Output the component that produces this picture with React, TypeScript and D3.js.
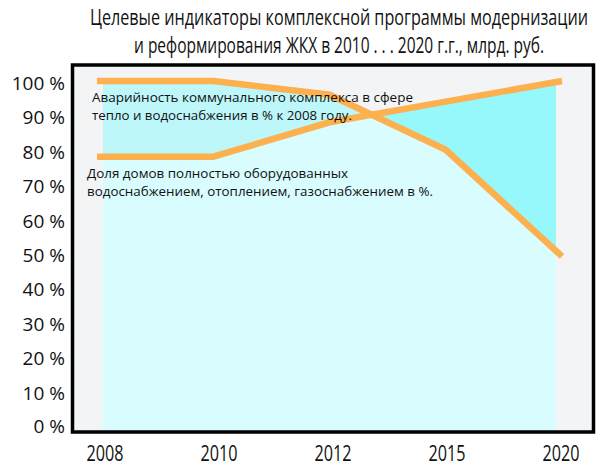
import React from "react";
import * as d3 from "d3";

// chart values
const years = ["2008", "2010", "2012", "2015", "2020"];
const emergencyRate = [100, 100, 96, 80, 49]; // Аварийность коммунального комплекса, % к 2008
const housingShare = [78, 78, 88, 94, 100]; // Доля домов полностью оборудованных, %
const yTickValues = [0, 10, 20, 30, 40, 50, 60, 70, 80, 90, 100];

const titleLines = [
  "Целевые индикаторы комплексной программы модернизации",
  "и реформирования ЖКХ в 2010 . . . 2020 г.г., млрд. руб.",
];
const noteEmergency = [
  "Аварийность коммунального комплекса в сфере",
  "тепло и водоснабжения в % к 2008 году.",
];
const noteHousing = [
  "Доля домов полностью оборудованных",
  "водоснабжением, отоплением, газоснабжением в %.",
];

const width = 603;
const height = 472;

export default function App() {
  // frame of the plot
  const frame = { left: 72.5, top: 65, right: 593.5, bottom: 432 };

  const x = d3.scalePoint<string>().domain(years).range([97, 562]);
  const xLabel = d3.scalePoint<string>().domain(years).range([105, 561]);
  const y = d3.scaleLinear().domain([0, 100]).range([425, 81]);

  const rows = (vals: number[]) => years.map((yr, i) => ({ yr, v: vals[i] }));
  const rowsA = rows(emergencyRate);
  const rowsD = rows(housingShare);

  const areaUnder = d3
    .area<{ yr: string; v: number }>()
    .x((d) => x(d.yr)!)
    .y0(frame.bottom)
    .y1((d) => y(d.v));

  const line = d3
    .line<{ yr: string; v: number }>()
    .x((d) => x(d.yr)!)
    .y((d) => y(d.v));

  const fillLeft = x(years[0])! + 6;
  const fillRight = x(years[years.length - 1])! - 6;

  const orange = "#fdb04e";
  const sans = "'Open Sans', 'Noto Sans', sans-serif";
  const squeeze = 0.8; // condensed look for year labels
  const tallTitle = 21 / 17; // title is drawn small and stretched up

  return (
    <svg
      width={width}
      height={height}
      style={{ position: "absolute", left: 0, top: 0, background: "#fff" }}
    >
      <defs>
        <clipPath id="fillX">
          <rect
            x={fillLeft}
            y={frame.top}
            width={fillRight - fillLeft}
            height={frame.bottom - frame.top}
          />
        </clipPath>
        <clipPath id="underD">
          <path d={areaUnder(rowsD)!} />
        </clipPath>
      </defs>

      {/* title */}
      {titleLines.map((t, i) => (
        <g key={i} transform={`translate(339,${25 + i * 28}) scale(1,${tallTitle})`}>
          <text
            x={0}
            y={0}
            textAnchor="middle"
            fontFamily={sans}
            fontSize={17}
            fill="#111"
            textLength={i === 0 ? 498 : 410}
            lengthAdjust="spacingAndGlyphs"
          >
            {t}
          </text>
        </g>
      ))}

      {/* plot background */}
      <rect
        x={frame.left}
        y={frame.top}
        width={frame.right - frame.left}
        height={frame.bottom - frame.top}
        fill="#f3f4f6"
      />

      <g clipPath="url(#fillX)">
        <path d={areaUnder(rowsA)!} fill="#bdf7f9" />
        <path d={areaUnder(rowsD)!} fill="#96f8fb" />
        <g clipPath="url(#underD)">
          <path d={areaUnder(rowsA)!} fill="#d9fdfe" />
        </g>
      </g>

      {/* lines */}
      {[rowsA, rowsD].map((r, i) => (
        <path
          key={i}
          d={line(r)!}
          fill="none"
          stroke={orange}
          strokeWidth={6.5}
          strokeLinejoin="miter"
        />
      ))}

      {/* notes */}
      {noteEmergency.map((t, i) => (
        <text
          key={"a" + i}
          x={92}
          y={101.5 + i * 18.5}
          fontFamily={sans}
          fontSize={13.5}
          fill="#111"
          textLength={i === 0 ? 321 : 260}
          lengthAdjust="spacingAndGlyphs"
        >
          {t}
        </text>
      ))}
      {noteHousing.map((t, i) => (
        <text
          key={"d" + i}
          x={87}
          y={178 + i * 18}
          fontFamily={sans}
          fontSize={13.5}
          fill="#111"
          textLength={i === 0 ? 261 : 346}
          lengthAdjust="spacingAndGlyphs"
        >
          {t}
        </text>
      ))}

      {/* frame */}
      <rect
        x={frame.left}
        y={frame.top}
        width={frame.right - frame.left}
        height={frame.bottom - frame.top}
        fill="none"
        stroke="#000"
        strokeWidth={3.5}
      />

      {/* y labels */}
      {yTickValues.map((v) => (
        <text
          key={v}
          x={65}
          y={Math.min(y(v) + 2, 426)}
          textAnchor="end"
          dominantBaseline="central"
          fontFamily={sans}
          fontSize={19}
          fill="#111"
        >
          {v} %
        </text>
      ))}

      {/* x labels */}
      {years.map((yr) => (
        <g key={yr} transform={`translate(${xLabel(yr)},461) scale(${squeeze},1)`}>
          <text
            x={0}
            y={0}
            textAnchor="middle"
            fontFamily={sans}
            fontSize={21}
            fill="#111"
            textLength={37 / squeeze}
            lengthAdjust="spacingAndGlyphs"
          >
            {yr}
          </text>
        </g>
      ))}
    </svg>
  );
}
